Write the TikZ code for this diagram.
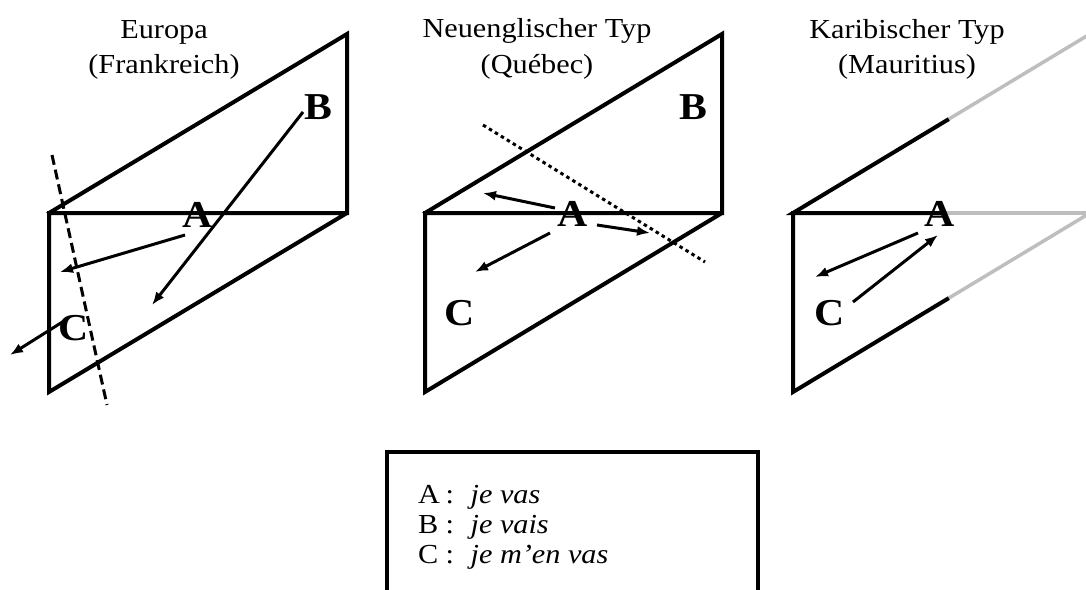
\documentclass[tikz,border=0pt]{standalone}
\usepackage{graphicx}
\usepackage{fontspec}
\setmainfont{Liberation Serif}
\usetikzlibrary{arrows.meta,calc}
\newcommand{\hstr}[1]{\scalebox{1.1}[1]{#1}}
\definecolor{ghostgray}{RGB}{190,190,190}
\begin{document}
\begin{tikzpicture}[x=1pt,y=-1pt,
  panel/.style={line width=4pt, line join=miter, line cap=rect},
  ghost/.style={line width=3.5pt, draw=ghostgray},
  arr/.style={line width=3pt, -{Latex[length=13pt,width=10pt]}},
  lbl/.style={font=\fontsize{38}{40}\selectfont\bfseries, inner sep=0pt},
  ttl/.style={font=\fontsize{27.5}{33}\selectfont, anchor=base, inner sep=0pt},
  leg/.style={font=\fontsize{27.5}{30}\selectfont, anchor=base west, inner sep=0pt},
]
\useasboundingbox (0,0) rectangle (1086,589);
\clip (0,0) rectangle (1086,589);

% ---------- Panel 1 ----------
\coordinate (p1lm) at (49,213);
\coordinate (p1rm) at (347,213);
\coordinate (p1rt) at (347,34);
\coordinate (p1lb) at (49,392);
\draw[panel] (p1lm) -- (p1rt) -- (p1rm) -- (p1lb) -- (p1lm) -- (p1rm);

\node[ttl] (t1a) at (164,38) {\hstr{Europa}};
\node[ttl] (t1b) at (164,73) {\hstr{(Frankreich)}};

\node[lbl] (A1) at (198,215) {\hstr{A}};
\node[lbl] (B1) at (318,107) {\hstr{B}};
\node[lbl] (C1) at (74,328) {\hstr{C}};

\coordinate (b1s) at (303,112);
\coordinate (b1e) at (152,305);
\coordinate (a1s) at (185,235);
\coordinate (a1e) at (60,272);
\coordinate (c1s) at (64,321);
\coordinate (c1e) at (10,355);
\draw[arr] (b1s) -- (b1e);
\draw[arr] (a1s) -- (a1e);
\draw[arr] (c1s) -- (c1e);
\coordinate (d1s) at (52,155);
\coordinate (d1e) at (107,405);
\draw[line width=3pt, dash pattern=on 10pt off 5pt] (d1s) -- (d1e);

% ---------- Panel 2 ----------
\coordinate (p2lm) at (425,213);
\coordinate (p2rm) at (722,213);
\coordinate (p2rt) at (722,34);
\coordinate (p2lb) at (425,392);
\draw[panel] (p2lm) -- (p2rt) -- (p2rm) -- (p2lb) -- (p2lm) -- (p2rm);

\node[ttl] (t2a) at (537,37) {\hstr{Neuenglischer Typ}};
\node[ttl] (t2b) at (537,73) {\hstr{(Québec)}};

\node[lbl] (A2) at (573,214) {\hstr{A}};
\node[lbl] (B2) at (693,107) {\hstr{B}};
\node[lbl] (C2) at (460,313) {\hstr{C}};

\coordinate (a2s1) at (555,208);
\coordinate (a2e1) at (483,193);
\coordinate (a2s2) at (597,225);
\coordinate (a2e2) at (650,233);
\coordinate (a2s3) at (550,233);
\coordinate (a2e3) at (475,272);
\draw[arr] (a2s1) -- (a2e1);
\draw[arr] (a2s2) -- (a2e2);
\draw[arr] (a2s3) -- (a2e3);
\coordinate (d2s) at (483,125);
\coordinate (d2e) at (705,262);
\draw[line width=3pt, dash pattern=on 3.5pt off 3.5pt] (d2s) -- (d2e);

% ---------- Panel 3 ----------
\coordinate (p3lm) at (793,213);
\coordinate (p3rm) at (1090,213);
\coordinate (p3rt) at (1090,34);
\coordinate (p3lb) at (793,392);
\coordinate (p3km) at (940,213);
\coordinate (p3kt) at ($(p3lm)!0.5185!(p3rt)$);
\coordinate (p3kb) at ($(p3lb)!0.5185!(p3rm)$);
\draw[ghost] (p3km) -- (p3rm);
\draw[ghost] (p3kt) -- (p3rt);
\draw[ghost] (p3kb) -- (p3rm);
\draw[panel] (p3kt) -- (p3lm) -- (p3km);
\draw[panel] (p3lm) -- (p3lb) -- (p3kb);

\node[ttl] (t3a) at (907,38) {\hstr{Karibischer Typ}};
\node[ttl] (t3b) at (907,73) {\hstr{(Mauritius)}};

\node[lbl] (A3) at (940,214) {\hstr{A}};
\node[lbl] (C3) at (830,313) {\hstr{C}};

\coordinate (a3s) at (918,233);
\coordinate (a3e) at (815,277);
\coordinate (c3s) at (853,302);
\coordinate (c3e) at (938,235);
\draw[arr] (a3s) -- (a3e);
\draw[arr] (c3s) -- (c3e);

% ---------- Legend ----------
\coordinate (lg1) at (387,452);
\coordinate (lg2) at (758,610);
\draw[line width=4pt] (lg1) rectangle (lg2);
\node[leg] (lA) at (418,503) {\hstr{\makebox[25pt][l]{A}:\hspace{15pt}\textit{je vas}}};
\node[leg] (lB) at (418,533) {\hstr{\makebox[25pt][l]{B}:\hspace{15pt}\textit{je vais}}};
\node[leg] (lC) at (418,563) {\hstr{\makebox[25pt][l]{C}:\hspace{15pt}\textit{je m’en vas}}};
\end{tikzpicture}
\end{document}
